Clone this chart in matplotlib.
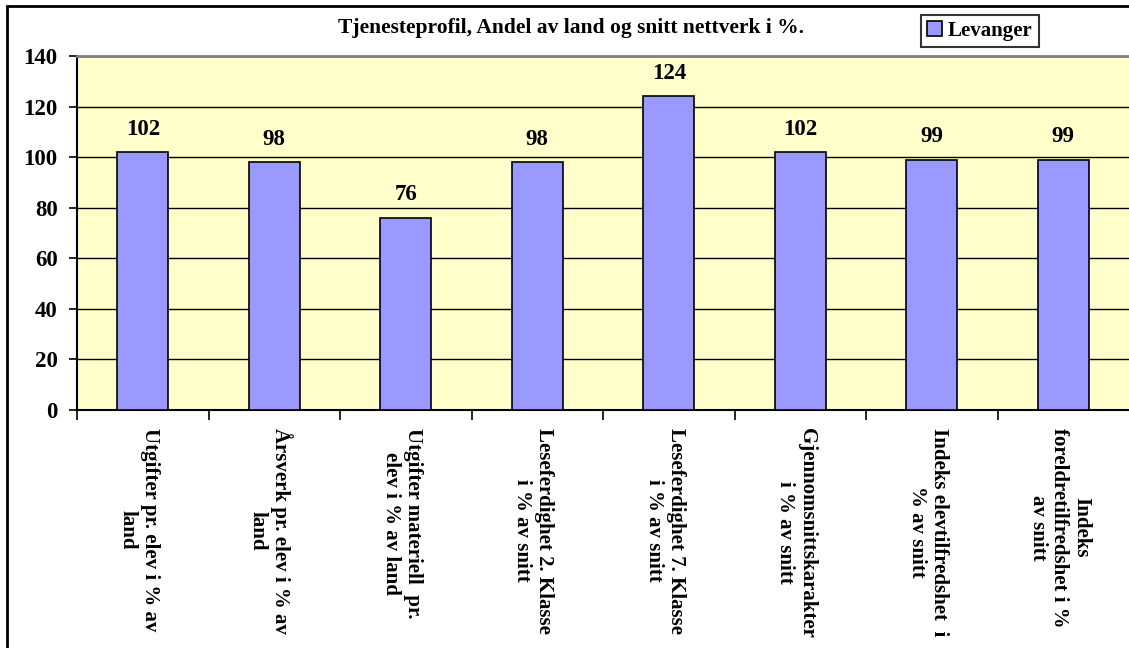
import matplotlib.pyplot as plt
from matplotlib.patches import Rectangle

# Levanger service profile, share of national / network average (%)
categories = [
    'Utgifter pr. elev i % av\nland',
    'Årsverk pr. elev i % av\nland',
    'Utgifter materiell  pr.\nelev i % av land',
    'Leseferdighet 2. Klasse\ni % av snitt',
    'Leseferdighet 7. Klasse\ni % av snitt',
    'Gjennomsnittskarakter\ni % av snitt',
    'Indeks elevtilfredshet  i\n% av snitt',
    'Indeks\nforeldretilfredshet i %\nav snitt',
]
values = [102, 98, 76, 98, 124, 102, 99, 99]
series_name = 'Levanger'
yticks = [0, 20, 40, 60, 80, 100, 120, 140]

plt.rcParams['font.family'] = ['Liberation Serif', 'DejaVu Serif']
plt.rcParams['font.weight'] = 'bold'

fig = plt.figure(figsize=(11.29, 6.48), dpi=100)
ax = fig.add_axes([77 / 1129, 1 - 410 / 648, 1 - 77 / 1129, (410 - 56) / 648])
ax.set_facecolor('#FFFFCC')

index = range(len(values))
bars = ax.bar(index, values, 0.39, color='#9999FF', edgecolor='black', linewidth=1.2,
              label=series_name, zorder=3)

for b, v in zip(bars, values):
    ax.annotate(str(v), (b.get_x() + b.get_width() / 2, v), xytext=(0, 9),
                textcoords='offset points', ha='center', va='bottom',
                fontsize=16.5, fontweight='bold')

ax.set_xlim(-0.5, len(values) - 0.5)
ax.set_ylim(0, 140)
ax.set_yticks(yticks)
ax.set_yticklabels([str(t) for t in yticks], fontsize=16.5, fontweight='bold')
ax.yaxis.grid(True, color='black', linewidth=1, zorder=1)
ax.tick_params(axis='y', length=6, width=1.2, pad=8)

# ticks sit between categories, labels under each bar
ax.set_xticks([i - 0.5 for i in index])
ax.set_xticklabels([])
ax.tick_params(axis='x', length=7, width=1.2)
for i, lab in zip(index, categories):
    ax.text(i - 0.03, -7, lab, rotation=270, ha='center', va='top', multialignment='center',
            fontsize=15, fontweight='bold', linespacing=1.12)

for side in ['left', 'bottom']:
    ax.spines[side].set_color('black')
    ax.spines[side].set_linewidth(1.5)
ax.spines['top'].set_color('#808080')
ax.spines['top'].set_linewidth(2)
ax.spines['right'].set_visible(False)

fig.text(571 / 1129, 1 - 28 / 648, 'Tjenesteprofil, Andel av land og snitt nettverk i %.',
         ha='center', va='center', fontsize=15.5, fontweight='bold')

leg = fig.legend(handles=[bars], labels=[series_name], loc='center',
                 bbox_to_anchor=(980 / 1129, 1 - 31 / 648),
                 prop={'weight': 'bold', 'size': 15}, frameon=True, fancybox=False,
                 edgecolor='black', handlelength=0.7, handleheight=0.7,
                 handletextpad=0.3, borderpad=0.3, borderaxespad=0)
leg.get_frame().set_linewidth(1.5)

# outer chart border
fig.patches.append(Rectangle((7 / 1129, -0.1), 1.2, 1 - 6 / 648 + 0.1,
                             transform=fig.transFigure, fill=False,
                             edgecolor='black', linewidth=2))

plt.savefig('out.png', dpi=100)
